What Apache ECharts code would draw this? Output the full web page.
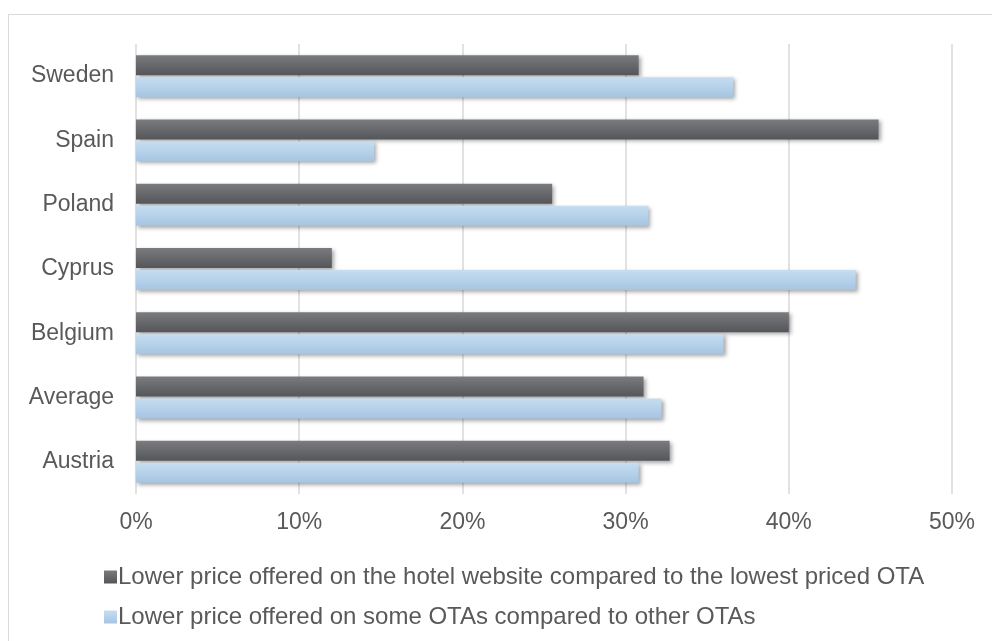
<!DOCTYPE html>
<html>
<head>
<meta charset="utf-8">
<script src="https://cdn.jsdelivr.net/npm/echarts@6/dist/echarts.min.js"></script>
<style>
  html, body { margin: 0; padding: 0; background: #fff; }
  #frame { position: absolute; left: 8px; top: 14px; width: 990px; height: 640px; border: 1px solid #d9d9d9; box-sizing: border-box; }
  #chart { position: absolute; left: 0; top: 0; width: 992px; height: 641px; }
</style>
</head>
<body>
<div id="frame"></div>
<div id="chart"></div>
<script>
// categories, bottom -> top
const countries = ['Austria', 'Average', 'Belgium', 'Cyprus', 'Poland', 'Spain', 'Sweden'];
// values in %
const hotelVsOta = [32.7, 31.1, 40.0, 12.0, 25.5, 45.5, 30.8];
const otaVsOta = [30.8, 32.2, 36.0, 44.1, 31.4, 14.6, 36.6];
const seriesNames = [
  'Lower price offered on the hotel website compared to the lowest priced OTA',
  'Lower price offered on some OTAs compared to other OTAs'
];

let myChart = echarts.init(document.getElementById('chart'));

const darkFill = new echarts.graphic.LinearGradient(0, 0, 0, 1, [
  { offset: 0, color: '#7a7b7e' },
  { offset: 1, color: '#55565a' }
]);
const lightFill = new echarts.graphic.LinearGradient(0, 0, 0, 1, [
  { offset: 0, color: '#c6ddf1' },
  { offset: 1, color: '#a6c5e2' }
]);
const shadow = {
  shadowBlur: 4,
  shadowOffsetX: 2,
  shadowOffsetY: 2,
  shadowColor: 'rgba(0,0,0,0.35)'
};

myChart.setOption({
  animation: false,
  textStyle: { fontFamily: 'Liberation Sans, Arial, sans-serif' },
  grid: { left: 136, right: 40, top: 44, bottom: 147 },
  legend: {
    orient: 'vertical',
    left: 99,
    top: 560,
    itemGap: 16,
    itemWidth: 13,
    itemHeight: 13,
    icon: 'rect',
    data: seriesNames,
    textStyle: { fontSize: 24, color: '#595959', padding: [0, 0, 0, -4] }
  },
  xAxis: {
    type: 'value',
    min: 0,
    max: 50,
    interval: 10,
    axisLine: { show: false },
    axisTick: { show: false },
    axisLabel: { formatter: '{value}%', fontSize: 23, color: '#595959', margin: 17 },
    splitLine: { lineStyle: { color: '#d9d9d9', width: 1.5 } }
  },
  yAxis: {
    type: 'category',
    data: countries,
    axisLine: { show: false },
    axisTick: { show: false },
    axisLabel: { fontSize: 23, color: '#595959', margin: 22 }
  },
  series: [
    {
      name: seriesNames[0],
      type: 'bar',
      data: hotelVsOta,
      barWidth: 20,
      barGap: '10%',
      itemStyle: Object.assign({ color: darkFill }, shadow)
    },
    {
      name: seriesNames[1],
      type: 'bar',
      data: otaVsOta,
      barWidth: 20,
      barGap: '10%',
      itemStyle: Object.assign({ color: lightFill }, shadow)
    }
  ]
});
</script>
</body>
</html>
